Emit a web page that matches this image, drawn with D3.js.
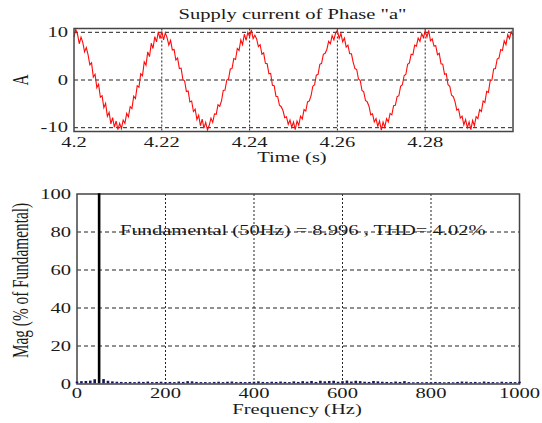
<!DOCTYPE html>
<html>
<head>
<meta charset="utf-8">
<script src="https://cdn.jsdelivr.net/npm/d3@7"></script>
<style>
  html, body { margin: 0; padding: 0; background: #fff; }
  svg { display: block; }
  text { font-family: "Liberation Serif", "Times New Roman", serif; fill: #1a1a1a; }
</style>
</head>
<body>
<svg id="chart" width="542" height="423"></svg>
<script>
// Phase "a" supply current, sampled every 0.4 ms from 4.2 s to 4.3 s
const startTime = 4.2;
const sampleStep = 0.0004;
const currentA = [
  9.0, 10.6, 9.6, 7.6, 9.0, 7.9, 5.9, 6.8, 5.3, 3.2, 3.6, 0.6, 1.2, -1.6, -0.9, -3.6, -3.3, -5.8, -4.9, -7.6,
  -6.8, -9.2, -7.9, -9.9, -8.6, -10.4, -9.1, -10.2, -8.4, -9.1, -7.0, -7.7, -5.6, -6.0, -3.4, -3.9, -1.2, -1.5, 1.3, 0.9,
  3.8, 3.1, 5.9, 4.9, 7.7, 6.6, 9.1, 8.0, 10.1, 8.7,
  10.2, 8.4, 9.9, 8.9, 7.3, 8.3, 6.3, 6.4, 4.2, 4.6, 2.4, 2.5, 0.1, -0.2, -2.4, -2.3, -4.6, -4.4, -6.6, -6.1,
  -8.3, -7.4, -9.6, -8.2, -10.1, -8.9, -10.5, -9.5, -8.0, -8.9, -7.1, -7.2, -5.2, -5.5, -4.4, -2.2, -2.1, 0.0, 0.2, 2.3,
  2.4, 4.5, 4.3, 6.6, 6.2, 8.4, 7.4, 9.6, 8.3, 10.0,
  9.1, 10.5, 8.7, 9.4, 8.6, 7.0, 7.4, 5.4, 5.7, 3.5, 3.4, 1.3, 1.4, -1.1, -1.2, -3.4, -3.5, -5.3, -5.6, -6.4,
  -7.9, -7.7, -9.3, -8.4, -9.9, -8.8, -10.4, -8.6, -9.5, -7.6, -8.2, -6.2, -6.5, -4.6, -4.4, -3.3, -1.3, -1.0, 1.0, 1.2,
  3.3, 3.5, 5.4, 5.6, 6.4, 8.1, 7.6, 9.3, 8.4, 9.9,
  10.4, 8.7, 9.8, 8.0, 8.8, 6.9, 7.3, 5.5, 5.5, 3.7, 2.4, 2.2, 0.2, -0.1, -2.2, -2.5, -4.3, -4.6, -5.5, -7.3,
  -7.1, -8.8, -8.1, -9.7, -8.6, -10.5, -8.8, -9.9, -8.1, -8.8, -7.0, -7.3, -5.4, -5.3, -3.5, -3.3, -1.3, -1.0, 0.9, 1.2,
  3.3, 3.6, 5.4, 5.3, 7.3, 7.1, 8.8, 8.1, 9.7, 8.9,
  10.3, 9.0, 10.4, 8.2, 8.6, 7.1, 7.2, 5.3, 5.6, 3.4, 3.3, 1.2, 1.3, -1.0, -1.3, -3.2, -3.5, -4.6, -6.3, -6.1,
  -8.0, -7.6, -9.4, -8.3, -10.0, -8.8, -10.4, -8.5, -9.6, -7.7, -8.1, -6.2, -6.6, -4.4, -4.7, -2.4, -2.6, -0.2, 0.0, 2.3,
  2.4, 4.4, 4.6, 6.4, 6.2, 8.2, 7.4, 9.5, 8.7, 10.1,
  9.4
];
const timeTicks = [4.2, 4.22, 4.24, 4.26, 4.28];
const currentTicks = [-10, 0, 10];

// FFT magnitude spectrum, 10 Hz bins from 0 to 1000 Hz, in % of the fundamental
const binWidthHz = 10;
const spectrumMag = [
  0.9, 1.1, 1.2, 1.4, 2.1, 100, 2.2, 1.3, 1.0, 0.8,
  0.7, 0.6, 0.7, 0.6, 0.8, 0.7, 0.9, 0.6, 0.7, 0.8,
  0.6, 0.7, 0.6, 0.9, 0.7, 1.1, 1.0, 0.7, 0.6, 0.6,
  0.5, 0.7, 0.8, 0.6, 0.8, 0.9, 0.6, 0.7, 0.6, 0.7,
  0.8, 1.0, 0.7, 0.6, 0.8, 0.7, 0.9, 0.7, 0.6, 1.0,
  0.7, 1.1, 0.8, 1.2, 0.7, 1.3, 1.0, 1.2, 1.3, 0.8,
  1.1, 1.4, 0.9, 1.3, 1.1, 0.8, 0.7, 1.2, 1.0, 0.8,
  0.7, 0.6, 0.9, 0.7, 1.1, 0.6, 0.5, 0.6, 0.5, 0.6,
  0.5, 0.7, 0.6, 0.5, 0.6, 0.5, 0.7, 0.9, 0.8, 0.6,
  0.7, 0.5, 0.9, 0.7, 0.6, 0.5, 0.8, 0.6, 0.7, 0.6,
  0.8
];
const freqTicks = [0, 200, 400, 600, 800, 1000];
const magTicks = [0, 20, 40, 60, 80, 100];
const fundamentalHz = 50;
const fundamentalLabel = "Fundamental (50Hz) = 8.996 , THD= 4.02%";

const svg = d3.select("#chart");
const stretch = 1.5;      // wide lettering
const fs = 13.7;

// horizontal text drawn with widened glyphs
function label(parent, x, y, str, anchor, size) {
  return parent.append("text")
    .attr("transform", `translate(${x},${y}) scale(${stretch},1)`)
    .attr("text-anchor", anchor || "middle")
    .style("font-size", (size || fs) + "px")
    .text(str);
}
// vertical (rotated) axis title, reading bottom-to-top
function vlabel(parent, x, y, str, size) {
  return parent.append("text")
    .attr("transform", `translate(${x},${y}) scale(${stretch},1) rotate(-90)`)
    .attr("text-anchor", "middle")
    .style("font-size", size + "px")
    .text(str);
}

// ---------- upper panel: time-domain current ----------
const wave = { left: 74, right: 513, top: 28.5, bottom: 131.5 };
const xT = d3.scaleLinear().domain([4.2, 4.3]).range([wave.left, wave.right]);
const yT = d3.scaleLinear().domain([-10.8, 10.8]).range([wave.bottom, wave.top]);

const gTop = svg.append("g");
gTop.selectAll("line.hgrid").data(currentTicks).join("line")
  .attr("x1", wave.left).attr("x2", wave.right)
  .attr("y1", d => yT(d)).attr("y2", d => yT(d))
  .attr("stroke", "#222").attr("stroke-width", 1).attr("stroke-dasharray", "4,3");
gTop.selectAll("line.vgrid").data(timeTicks.slice(1)).join("line")
  .attr("x1", d => xT(d)).attr("x2", d => xT(d))
  .attr("y1", wave.top).attr("y2", wave.bottom)
  .attr("stroke", "#222").attr("stroke-width", 1).attr("stroke-dasharray", "2,2");

const line = d3.line()
  .x((d, i) => xT(startTime + i * sampleStep))
  .y(d => yT(d));
gTop.append("path")
  .datum(currentA)
  .attr("d", line)
  .attr("fill", "none")
  .attr("stroke", "#ff0a0a")
  .attr("stroke-width", 1.1)
  .attr("stroke-linejoin", "miter");

gTop.append("rect")
  .attr("x", wave.left).attr("y", wave.top)
  .attr("width", wave.right - wave.left).attr("height", wave.bottom - wave.top)
  .attr("fill", "none").attr("stroke", "#444").attr("stroke-width", 1.5);

timeTicks.forEach(t => label(gTop, xT(t), wave.bottom + 15, String(t)));
currentTicks.forEach(v => label(gTop, wave.left - 6, yT(v) + 4.5, String(v), "end"));

label(svg, 292.5, 19, 'Supply current of Phase "a"');
label(svg, 292, 162, "Time (s)");
vlabel(svg, 28, yT(0), "A", 15.3);

// ---------- lower panel: harmonic spectrum ----------
const spec = { left: 77, right: 519.5, top: 194, bottom: 384 };
const xF = d3.scaleLinear().domain([0, 1000]).range([spec.left, spec.right]);
const yF = d3.scaleLinear().domain([0, 100]).range([spec.bottom, spec.top]);

const gBot = svg.append("g");
gBot.selectAll("line.hgrid").data(magTicks.slice(1, -1)).join("line")
  .attr("x1", spec.left).attr("x2", spec.right)
  .attr("y1", d => yF(d)).attr("y2", d => yF(d))
  .attr("stroke", "#222").attr("stroke-width", 1).attr("stroke-dasharray", "4,3");
gBot.selectAll("line.vgrid").data(freqTicks.slice(1, -1)).join("line")
  .attr("x1", d => xF(d)).attr("x2", d => xF(d))
  .attr("y1", spec.top).attr("y2", spec.bottom)
  .attr("stroke", "#222").attr("stroke-width", 1).attr("stroke-dasharray", "2,2");

gBot.append("rect")
  .attr("x", spec.left).attr("y", spec.top)
  .attr("width", spec.right - spec.left).attr("height", spec.bottom - spec.top)
  .attr("fill", "none").attr("stroke", "#444").attr("stroke-width", 1.5);

// bars stand on the baseline, drawn above the frame
const barW = 2.6;
const base = spec.bottom - 0.75;
gBot.selectAll("rect.bar").data(spectrumMag).join("rect")
  .attr("class", "bar")
  .attr("x", (d, i) => xF(i * binWidthHz) - barW / 2)
  .attr("y", d => yF(d) - 0.75)
  .attr("width", barW)
  .attr("height", d => base - (yF(d) - 0.75))
  .attr("fill", (d, i) => i * binWidthHz === fundamentalHz ? "#000" : "#16165a");

label(gBot, 120, yF(80) + 3, fundamentalLabel, "start");

freqTicks.forEach(f => label(gBot, xF(f), spec.bottom + 13.5, String(f)));
magTicks.forEach(m => label(gBot, spec.left - 6, yF(m) + 4.5, String(m), "end"));

label(svg, 297, 414, "Frequency (Hz)");
vlabel(svg, 28, 280.5, "Mag (% of Fundamental)", 15.3);
</script>
</body>
</html>
